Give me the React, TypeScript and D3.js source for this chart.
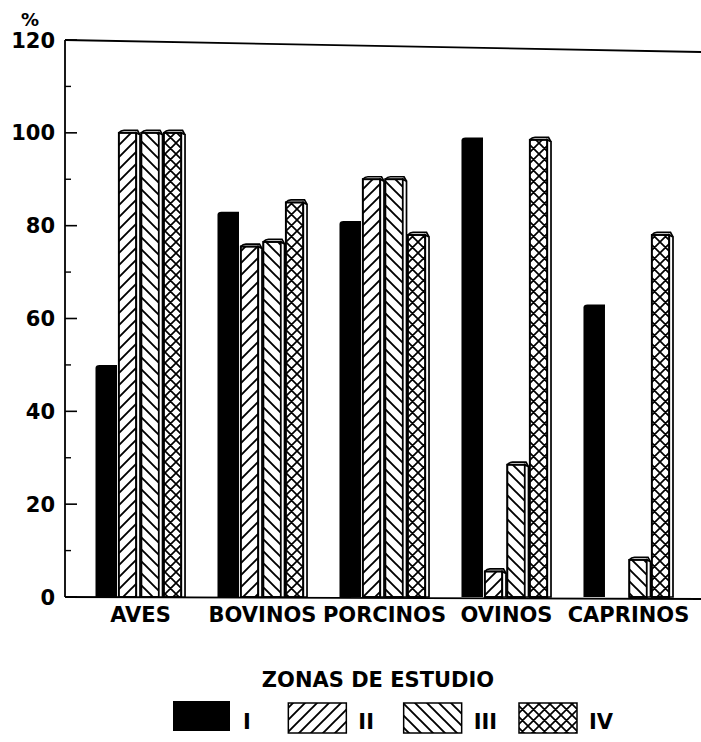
import React from 'react';
import * as d3 from 'd3';

// values (% per species and study zone)
const species = ['AVES', 'BOVINOS', 'PORCINOS', 'OVINOS', 'CAPRINOS'];
const zones = ['I', 'II', 'III', 'IV'];
const zoneI = [50, 83, 81, 99, 63];
const zoneII = [100, 75.5, 90, 5.5, 0];
const zoneIII = [100, 76.5, 90, 28.5, 8];
const zoneIV = [100, 85, 78, 98.5, 78];
const yTicks = [0, 20, 40, 60, 80, 100, 120];
const yMinor = [10, 30, 50, 70, 90, 110];

const series = [zoneI, zoneII, zoneIII, zoneIV];
const fills = ['#000', 'url(#hatchII)', 'url(#hatchIII)', 'url(#hatchIV)'];

const font = '"DejaVu Sans", Arial, sans-serif';

export default function App() {
  const width = 701;
  const height = 742;
  const left = 65;

  const y = d3.scaleLinear().domain([0, 120]).range([597, 40]);
  const x0 = d3.scaleBand<string>()
    .domain(species)
    .range([left, 704])
    .paddingInner(0.262)
    .paddingOuter(0.25);
  const x1 = d3.scaleBand<string>().domain(zones).range([0, x0.bandwidth()]);
  const bw = x1.bandwidth();
  const legendX = d3.scalePoint<string>().domain(zones).range([173, 519]);

  const bars: JSX.Element[] = [];
  species.forEach((sp, i) => {
    zones.forEach((z, j) => {
      const v = series[j][i];
      if (!v) return;
      const bx = (x0(sp) || 0) + (x1(z) || 0);
      const top = y(v);
      const base = y(0);
      if (j === 0) {
        bars.push(
          <path key={sp + z} fill="#000"
            d={`M${bx},${base}V${top + 3}Q${bx},${top} ${bx + 4},${top}H${bx + bw - 1}V${base}Z`} />
        );
        return;
      }
      const fw = bw - 5;
      bars.push(
        <g key={sp + z} stroke="#000" strokeWidth={1.7}>
          <rect x={bx + 0.8} y={top} width={fw} height={base - top} fill="#fff" />
          <rect x={bx + 0.8} y={top} width={fw} height={base - top} fill={fills[j]} />
          <path d={`M${bx + fw + 0.8},${top}L${bx + bw - 0.5},${top + 2}V${base}H${bx + fw + 0.8}Z`} fill="#fff" />
          <path d={`M${bx + 0.8},${top}Q${bx + 3},${top - 2.5} ${bx + 6},${top - 2.5}H${bx + fw + 2}L${bx + bw - 0.5},${top + 2}`} fill="none" />
        </g>
      );
    });
  });

  return (
    <svg width={width} height={height} style={{ position: 'absolute', left: 0, top: 0 }}>
      <defs>
        <pattern id="hatchII" patternUnits="userSpaceOnUse" width={12} height={12}>
          <path d="M0,12L12,0M-3,3L3,-3M9,15L15,9" stroke="#000" strokeWidth={1.9} />
        </pattern>
        <pattern id="hatchIII" patternUnits="userSpaceOnUse" width={12} height={12}>
          <path d="M0,0L12,12M-3,9L3,15M9,-3L15,3" stroke="#000" strokeWidth={1.9} />
        </pattern>
        <pattern id="hatchIV" patternUnits="userSpaceOnUse" width={11} height={11}>
          <path d="M0,11L11,0M-3,3L3,-3M8,14L14,8M0,0L11,11M-3,8L3,14M8,-3L14,3"
            stroke="#000" strokeWidth={1.7} />
        </pattern>
      </defs>
      <rect width={width} height={height} fill="#fff" />

      {/* frame */}
      <line x1={left} x2={left} y1={y(120)} y2={y(0)} stroke="#000" strokeWidth={1.8} />
      <line x1={left} x2={width} y1={y(120)} y2={y(120) + 12} stroke="#000" strokeWidth={1.8} />
      <line x1={left} x2={width} y1={y(0)} y2={y(0) + 2} stroke="#000" strokeWidth={1.8} />

      {yTicks.map(t => (
        <g key={'t' + t}>
          <line x1={left} x2={left + 12} y1={y(t)} y2={y(t)} stroke="#000" strokeWidth={1.6} />
          <text x={55} y={y(t)} dy="0.36em" textAnchor="end" fontFamily={font}
            fontWeight="bold" fontSize={21}>{t}</text>
        </g>
      ))}
      {yMinor.map(t => (
        <line key={'m' + t} x1={left} x2={left + 6} y1={y(t)} y2={y(t)} stroke="#000" strokeWidth={1.4} />
      ))}
      <text x={30} y={26} textAnchor="middle" fontFamily={font} fontWeight="bold" fontSize={18}>%</text>

      {bars}

      {species.map(sp => (
        <text key={sp} x={(x0(sp) || 0) + x0.bandwidth() / 2} y={622} textAnchor="middle"
          fontFamily={font} fontWeight="bold" fontSize={21}>{sp}</text>
      ))}

      {/* legend */}
      <text x={378} y={687} textAnchor="middle" fontFamily={font} fontWeight="bold" fontSize={21}>
        ZONAS DE ESTUDIO
      </text>
      {zones.map((z, j) => {
        const lx = legendX(z) || 0;
        return (
          <g key={'l' + z}>
            {j === 0
              ? <rect x={lx} y={701} width={57} height={30} fill="#000" />
              : <rect x={lx} y={703} width={58} height={30} fill={fills[j]} stroke="#000" strokeWidth={1.5} />}
            <text x={lx + 70} y={729} fontFamily={font} fontWeight="bold" fontSize={21}>{z}</text>
          </g>
        );
      })}
    </svg>
  );
}
